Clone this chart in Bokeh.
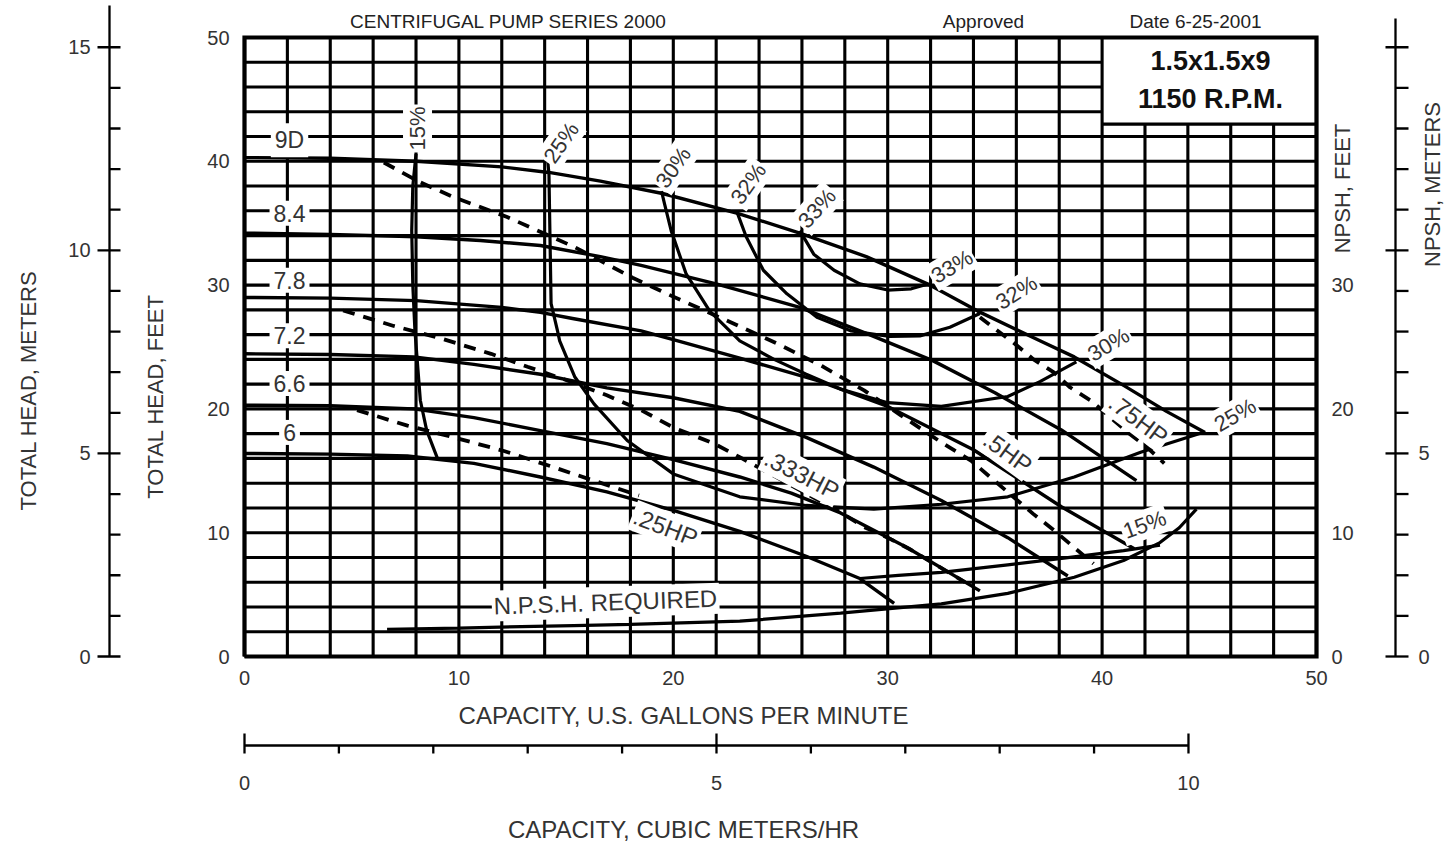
from bokeh.plotting import figure
from bokeh.models import Range1d, ColumnDataSource
from bokeh.embed import file_html
from bokeh.resources import INLINE
from bokeh.core.properties import value

# ---------------- data ----------------
# head-capacity curves per impeller diameter: capacity US gpm -> total head ft
q_9d = [0, 4, 8, 12, 14.2, 16.6, 19.5, 23.0, 25.9, 29.0, 31.85, 34.2, 37.1, 38.7, 41.0, 43.0, 44.8]
h_9d = [40.3, 40.25, 40.0, 39.55, 39.1, 38.4, 37.4, 35.8, 34.2, 32.3, 30.1, 27.9, 25.5, 24.2, 21.9, 19.8, 18.1]
q_84 = [0, 4, 8, 11, 13.8, 16.6, 18.5, 22.0, 25.9, 29.0, 32.1, 35.0, 38.1, 41.6]
h_84 = [34.2, 34.1, 33.9, 33.6, 33.2, 32.3, 31.6, 30.1, 28.2, 26.1, 23.9, 21.3, 18.3, 14.2]
q_78 = [0, 4, 8, 12, 13.8, 15.3, 18.5, 20.0, 23.1, 26.7, 30.0, 34.0, 38.1, 41.5]
h_78 = [29.0, 28.95, 28.75, 28.2, 27.8, 27.3, 26.3, 25.6, 24.1, 22.3, 20.2, 16.7, 12.1, 8.7]
q_72 = [0, 4, 7.9, 10.7, 13.8, 16.9, 20.0, 23.1, 26.2, 29.35, 32.5, 35.6, 38.4]
h_72 = [24.45, 24.4, 24.2, 23.6, 22.8, 21.7, 20.9, 19.8, 17.7, 15.3, 12.6, 9.6, 6.5]
q_66 = [0, 4, 7.9, 10.7, 13.8, 16.9, 20.0, 23.1, 25.5, 27.8, 30.9, 34.3]
h_66 = [20.3, 20.25, 20.0, 19.3, 18.25, 17.2, 15.9, 14.5, 13.2, 11.6, 8.8, 5.3]
q_60 = [0, 4, 7.6, 10.7, 13.8, 16.9, 20.0, 23.1, 26.2, 28.7, 30.3]
h_60 = [16.4, 16.35, 16.2, 15.6, 14.5, 13.3, 11.8, 10.1, 8.1, 6.3, 4.3]
diam_names = ["9D", "8.4", "7.8", "7.2", "6.6", "6"]

# iso-efficiency curves
q_e15a = [8.0, 7.85, 7.8, 7.85, 7.95, 8.2, 8.5, 9.0]
h_e15a = [40.6, 38.0, 34.4, 30.0, 26.3, 20.7, 18.25, 16.0]
q_e15b = [28.7, 30.5, 32.5, 35.6, 38.5, 41.0, 42.7]
h_e15b = [6.3, 6.55, 6.8, 7.4, 8.0, 8.55, 9.0]
q_e25 = [14.15, 14.2, 14.3, 14.6, 14.7, 15.4, 16.3, 17.85, 20.0, 23.1, 26.2, 29.35, 32.5, 35.6, 38.7, 41.8, 44.7]
h_e25 = [39.9, 39.0, 28.5, 26.3, 25.5, 22.6, 20.4, 17.45, 14.75, 12.9, 12.2, 11.9, 12.3, 12.9, 14.5, 16.5, 18.1]
q_e30 = [19.45, 19.6, 19.9, 20.6, 21.7, 23.1, 24.7, 26.2, 27.8, 30.0, 32.5, 35.6, 37.1, 38.8]
h_e30 = [37.6, 36.5, 34.4, 30.9, 27.9, 25.5, 24.0, 22.8, 21.6, 20.5, 20.2, 21.0, 22.2, 23.8]
q_e32 = [22.95, 23.4, 24.2, 25.3, 26.7, 28.3, 30.1, 31.5, 32.9, 34.3]
h_e32 = [36.0, 33.9, 31.2, 29.3, 27.4, 26.3, 25.85, 25.9, 26.6, 27.7]
q_e33 = [25.9, 26.55, 27.5, 28.7, 30.0, 31.1, 31.8]
h_e33 = [34.4, 32.5, 31.2, 30.1, 29.6, 29.7, 30.05]
eff_names = ["15%", "25%", "30%", "32%", "33%", "33%", "32%", "30%", "25%", "15%"]

# power (HP) lines, dashed
q_p25 = [5.25, 7.6, 9.76, 12.1, 14.4, 16.3, 18.4]
h_p25 = [19.9, 18.65, 17.7, 16.6, 15.3, 14.2, 13.0]
q_p333 = [4.6, 6.96, 9.14, 11.5, 13.2, 14.9, 16.9, 18.5, 20.0, 21.9, 23.1, 27.8, 28.9, 30.0, 31.1, 33.6]
h_p333 = [27.95, 26.7, 25.7, 24.45, 23.4, 22.4, 21.1, 19.9, 18.5, 17.2, 16.1, 11.65, 10.45, 9.6, 8.6, 6.0]
q_p50 = [6.5, 8.2, 9.76, 12.25, 15.36, 18.1, 19.7, 22.8, 25.0, 27.0, 28.9, 30.6, 32.5, 33.9, 36.8, 37.75, 38.7, 39.6]
h_p50 = [39.9, 38.3, 37.1, 35.5, 33.1, 30.6, 29.3, 26.9, 25.15, 23.4, 21.5, 19.5, 17.3, 15.8, 11.5, 10.2, 8.8, 7.5]
q_p75 = [34.3, 34.9, 35.9, 36.8, 37.75, 38.5, 39.45, 40.2, 41.2, 42.1, 42.9]
h_p75 = [27.4, 26.6, 25.3, 24.0, 22.95, 21.75, 20.7, 19.6, 18.1, 16.9, 15.6]
hp_names = [".25HP", ".333HP", ".5HP", ".75HP"]

# NPSH required
q_npsh = [6.65, 10, 15.35, 18, 23.1, 27.8, 32.5, 35.6, 38.7, 41.0, 42.7, 43.6, 44.4]
h_npsh = [2.2, 2.3, 2.5, 2.6, 2.85, 3.5, 4.25, 5.1, 6.4, 7.75, 9.2, 10.4, 11.9]

# axes ticks
gpm_ticks = [0, 10, 20, 30, 40, 50]
feet_ticks = [0, 10, 20, 30, 40, 50]
npsh_feet_ticks = [0, 10, 20, 30]
meter_major = [0, 5, 10, 15]
meter_minor = [1, 2, 3, 4, 6, 7, 8, 9, 11, 12, 13, 14]
npsh_m_labels = [0, 5]
cmh_major = [0, 5, 10]
cmh_minor = [1, 2, 3, 4, 6, 7, 8, 9]
FT_PER_M = 3.28084
GPM_PER_CMH = 4.402868

# ---------------- layout ----------------
W, H = 1455, 844
FL, FR, FT, FB = 244, 1316, 37, 656      # frame edges, px
SX = (FR - FL) / 50.0
SY = (FB - FT) / 50.0


def X(px):  # page px -> gpm
    return (px - FL) / SX


def Y(py):  # page px -> ft
    return (FB - py) / SY


p = figure(width=W, height=H, x_range=Range1d(X(0), X(W)), y_range=Range1d(Y(H), Y(0)),
           output_backend="svg", toolbar_location=None, x_axis_location=None, y_axis_location=None,
           min_border=0, min_border_left=0, min_border_right=0, min_border_top=0, min_border_bottom=0)
p.outline_line_color = None
p.grid.visible = False
p.background_fill_color = "white"
p.border_fill_color = "white"

FONT = value("Liberation Sans")
TXT = "#333333"
BOX_X, BOX_Y = 40, 43

# grid
gx = list(range(0, 51, 2))
gy = list(range(0, 51, 2))
vx0, vy0, vx1, vy1 = [], [], [], []
for x in gx:
    top = BOX_Y if BOX_X < x < 50 else 50
    vx0.append(x); vy0.append(0); vx1.append(x); vy1.append(top)
for y in gy:
    right = BOX_X if BOX_Y < y < 50 else 50
    vx0.append(0); vy0.append(y); vx1.append(right); vy1.append(y)
p.segment(vx0, vy0, vx1, vy1, line_color="black", line_width=3.1)
p.segment([BOX_X], [BOX_Y], [50], [BOX_Y], line_color="black", line_width=3.2)
p.line([0, 50, 50, 0, 0], [0, 0, 50, 50, 0], line_color="black", line_width=4.2, line_join="miter")


def text(x, y, t, size, angle=0, align="center", baseline="middle", color=TXT, bold=False, bg=None, pad=0):
    src = ColumnDataSource(dict(x=x, y=y, t=t, a=angle if isinstance(angle, list) else [angle] * len(x)))
    kw = {}
    if bg:
        kw = dict(background_fill_color=bg, padding=pad)
    p.text(x="x", y="y", text="t", angle="a", angle_units="deg", source=src, text_font=FONT,
           text_font_size=f"{size}px", text_align=align, text_baseline=baseline, text_color=color,
           text_font_style="bold" if bold else "normal", **kw)


# curves
heads = [(q_9d, h_9d), (q_84, h_84), (q_78, h_78), (q_72, h_72), (q_66, h_66), (q_60, h_60)]
for q, h in heads:
    p.line(q, h, line_color="black", line_width=3.4, line_join="round")
effs = [(q_e15a, h_e15a), (q_e15b, h_e15b), (q_e25, h_e25), (q_e30, h_e30), (q_e32, h_e32), (q_e33, h_e33)]
for q, h in effs:
    p.line(q, h, line_color="black", line_width=3.2, line_join="round")
for q, h in [(q_p25, h_p25), (q_p333, h_p333), (q_p50, h_p50), (q_p75, h_p75)]:
    p.line(q, h, line_color="black", line_width=3.8, line_dash="12 9")
p.line(q_npsh, h_npsh, line_color="black", line_width=3.2)

# labels on curves
text([2.1] * 6, [41.7, 35.8, 30.4, 25.9, 22.05, 18.1], diam_names, 23, bg="white", pad=4)
text([8.07, 14.77, 20.0, 23.5, 26.7, 33.0, 36.0, 40.3, 46.2, 41.98],
     [42.65, 41.5, 39.5, 38.2, 36.2, 31.5, 29.4, 25.2, 19.5, 10.66],
     eff_names, 22, angle=[90, 55, 55, 55, 48, 31, 32, 31, 30, 20], bg="white", pad=2)
text([19.64, 26.0, 35.6, 41.7], [10.45, 14.7, 16.5, 19.15], hp_names, 24,
     angle=[-21, -27, -36, -37], bg="white", pad=2)
text([16.84], [4.39], ["N.P.S.H. REQUIRED"], 24, angle=2, bg="white", pad=2)

# box text
text([X(1210), X(1210)], [Y(60), Y(98)], ["1.5x1.5x9", "1150 R.P.M."], 27, color="#111111", bold=True)

# header
text([X(508), X(983), X(1195)], [Y(21)] * 3, ["CENTRIFUGAL PUMP SERIES 2000", "Approved", "Date 6-25-2001"], 19,
     color="#222222")

# main axes tick labels
text([X(229)] * len(feet_ticks), feet_ticks, [str(v) for v in feet_ticks], 20, align="right")
text(gpm_ticks, [Y(677)] * len(gpm_ticks), [str(v) for v in gpm_ticks], 20)
text([X(1331)] * len(npsh_feet_ticks), npsh_feet_ticks, [str(v) for v in npsh_feet_ticks], 20, align="left")

# left meters axis
mx = X(109)
p.segment([mx], [0], [mx], [Y(5)], line_color="black", line_width=2.3)
p.segment([X(97)] * 4, [m * FT_PER_M for m in meter_major], [X(120)] * 4, [m * FT_PER_M for m in meter_major],
          line_color="black", line_width=2.3)
p.segment([mx] * len(meter_minor), [m * FT_PER_M for m in meter_minor], [X(120)] * len(meter_minor),
          [m * FT_PER_M for m in meter_minor], line_color="black", line_width=2.3)
text([X(90)] * 4, [m * FT_PER_M for m in meter_major], [str(m) for m in meter_major], 20, align="right")

# right NPSH meters axis
rx = X(1395)
p.segment([rx], [0], [rx], [Y(18)], line_color="black", line_width=2.3)
p.segment([X(1385)] * 4, [m * FT_PER_M for m in meter_major], [X(1408)] * 4, [m * FT_PER_M for m in meter_major],
          line_color="black", line_width=2.3)
p.segment([rx] * len(meter_minor), [m * FT_PER_M for m in meter_minor], [X(1408)] * len(meter_minor),
          [m * FT_PER_M for m in meter_minor], line_color="black", line_width=2.3)
text([X(1418)] * 2, [m * FT_PER_M for m in npsh_m_labels], [str(m) for m in npsh_m_labels], 20, align="left")

# bottom m3/hr axis
by = Y(745)
p.segment([0], [by], [10 * GPM_PER_CMH], [by], line_color="black", line_width=2.3)
p.segment([c * GPM_PER_CMH for c in cmh_major], [Y(733)] * 3, [c * GPM_PER_CMH for c in cmh_major], [Y(753)] * 3,
          line_color="black", line_width=2.3)
p.segment([c * GPM_PER_CMH for c in cmh_minor], [by] * len(cmh_minor), [c * GPM_PER_CMH for c in cmh_minor],
          [Y(753)] * len(cmh_minor), line_color="black", line_width=2.3)
text([c * GPM_PER_CMH for c in cmh_major], [Y(782)] * 3, [str(c) for c in cmh_major], 20)

# axis titles
text([X(683)], [Y(715)], ["CAPACITY, U.S. GALLONS PER MINUTE"], 24)
text([X(683)], [Y(829)], ["CAPACITY, CUBIC METERS/HR"], 24)
text([X(28)], [Y(390)], ["TOTAL HEAD, METERS"], 22, angle=90)
text([X(155)], [Y(396)], ["TOTAL HEAD, FEET"], 22, angle=90)
text([X(1342)], [Y(188)], ["NPSH, FEET"], 22, angle=90)
text([X(1432)], [Y(184)], ["NPSH, METERS"], 22, angle=90)

open("out.html", "w").write(file_html(p, INLINE))
